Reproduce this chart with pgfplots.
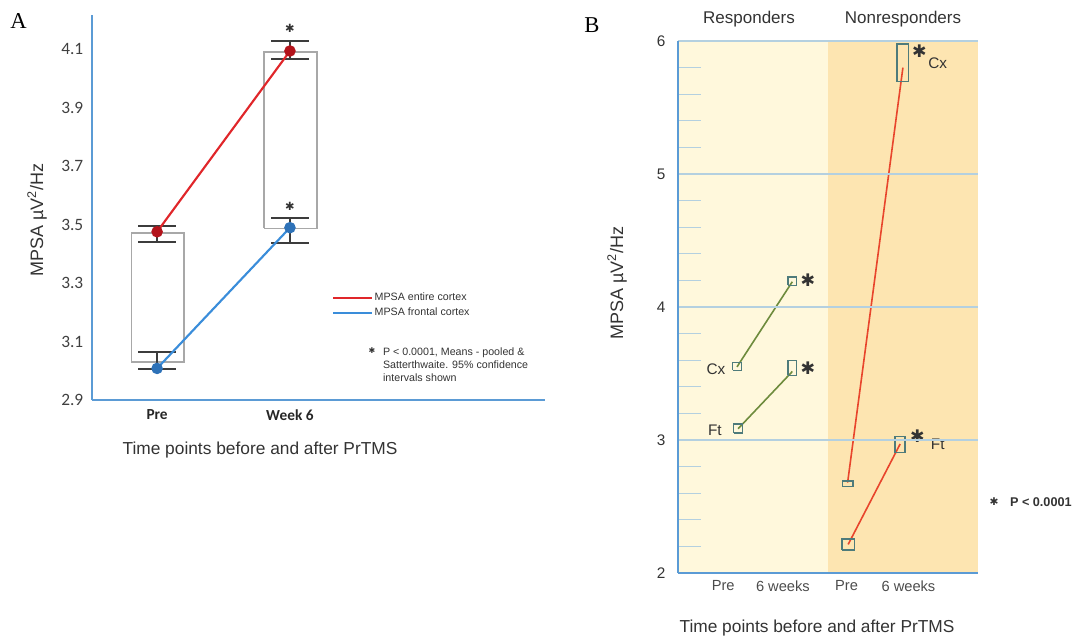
\documentclass[border=0pt]{standalone}
\usepackage{fontspec}
\setmainfont{Liberation Sans}
\newfontfamily\calibri{Carlito}
\newfontfamily\timesf{Liberation Serif}
\newfontfamily\dejavu{DejaVu Sans}
\usepackage{pgfplots}
\pgfplotsset{compat=1.18}
\definecolor{axblue}{HTML}{5B9BD5}
\definecolor{redA}{HTML}{E0262A}
\definecolor{redAm}{HTML}{B3131B}
\definecolor{blueA}{HTML}{3A8DDA}
\definecolor{blueAm}{HTML}{2E72B8}
\definecolor{errgray}{HTML}{3C3C3C}
\definecolor{boxgray}{HTML}{A8A8A8}
\definecolor{txt}{HTML}{333333}
\definecolor{resbg}{HTML}{FFF8DC}
\definecolor{nonbg}{HTML}{FDE5B1}
\definecolor{gridb}{HTML}{B4D0E0}
\definecolor{oliveB}{HTML}{6E8B3D}
\definecolor{redB}{HTML}{E8452C}
\definecolor{boxB}{HTML}{4E7B7B}
\newcommand\hstar{{\dejavu ✱}}
\begin{document}
\begin{tikzpicture}
\useasboundingbox (0,0) rectangle (805.5pt,477.75pt);
% ---------------- Panel A ----------------
\begin{axis}[
  at={(69pt,177.75pt)}, anchor=south west,
  width=339.75pt, height=288.75pt, scale only axis,
  xmin=0.51, xmax=3.92, ymin=2.9, ymax=4.216,
  axis x line=bottom, axis y line=left,
  axis line style={draw=axblue, line width=1.6pt, -},
  xtick={1,2}, xticklabels={Pre, Week 6},
  ytick={2.9,3.1,3.3,3.5,3.7,3.9,4.1},
  major tick length=0pt,
  /pgf/number format/assume math mode=true,
  /pgf/number format/fixed, /pgf/number format/fixed zerofill, /pgf/number format/precision=1,
  y tick label style={font=\calibri\fontsize{13}{15}\selectfont, color=black!75, xshift=-3pt},
  x tick label style={font=\calibri\bfseries\fontsize{11.5}{13}\selectfont, color=black!85, yshift=-4pt},
  clip=false,
  legend style={at={(axis cs:2.315,3.223)}, anchor=west, draw=none, fill=none,
    font=\fontsize{8}{9}\selectfont\color{txt}, row sep=1.2pt, inner sep=0pt,
    nodes={inner sep=1pt, text height=6pt, text depth=2pt}},
  legend cell align=left,
  legend image code/.code={\draw[#1, line width=2pt] (0pt,0pt) -- (29pt,0pt);},
]
% boxes
\addplot[boxgray, line width=1pt, forget plot] coordinates {(0.805,3.030) (1.203,3.030) (1.203,3.471) (0.805,3.471) (0.805,3.030)};
\addplot[boxgray, line width=1pt, forget plot] coordinates {(1.805,3.487) (2.203,3.487) (2.203,4.089) (1.805,4.089) (1.805,3.487)};
% error bars
\addplot[forget plot, only marks, mark=none,
  error bars/.cd, y dir=both, y explicit,
  error bar style={errgray, line width=1.4pt},
  error mark=|,
  error mark options={errgray, line width=1.4pt, mark size=14pt}]
  coordinates {(1,3.475) += (0,0.020) -= (0,0.034)
               (2,4.093) += (0,0.035) -= (0,0.027)
               (1,3.008) += (0,0.057) -= (0,0.003)
               (2,3.489) += (0,0.032) -= (0,0.053)};
% lines
\addplot[redA, line width=1.6pt, mark=*, mark size=3.5pt, mark options={fill=redAm, draw=redAm}]
  coordinates {(1,3.475) (2,4.093)};
\addlegendentry{MPSA entire cortex}
\addplot[blueA, line width=1.6pt, mark=*, mark size=3.5pt, mark options={fill=blueAm, draw=blueAm}]
  coordinates {(1,3.008) (2,3.489)};
\addlegendentry{MPSA frontal cortex}
% stars
\node[txt, font=\fontsize{8.5}{8.5}\selectfont] at (axis cs:2.0,4.17) {\hstar};
\node[txt, font=\fontsize{8.5}{8.5}\selectfont] at (axis cs:2.0,3.563) {\hstar};
% note
\node[txt, font=\fontsize{6}{6}\selectfont] at (axis cs:2.617,3.068) {\hstar};
\node[txt, anchor=north west, align=left, inner sep=0pt, font=\fontsize{8}{9.75}\selectfont] at (axis cs:2.699,3.081)
  {P < 0.0001, Means - pooled \&\\Satterthwaite. 95\% confidence\\intervals shown};
\end{axis}
% ---------------- Panel B ----------------
\begin{axis}[
  at={(508.5pt,48pt)}, anchor=south west,
  width=225pt, height=399pt, scale only axis,
  axis on top,
  xmin=-0.067, xmax=5.358, ymin=2, ymax=6,
  axis x line=bottom, axis y line=left,
  axis line style={draw=axblue, line width=1.8pt, -},
  ytick={2,3,4,5,6},
  minor ytick={2.2,2.4,2.6,2.8,3.2,3.4,3.6,3.8,4.2,4.4,4.6,4.8,5.2,5.4,5.6,5.8},
  ymajorgrids, major grid style={gridb, line width=0.9pt},
  major tick length=0pt, minor tick length=17pt, tick align=inside,
  minor tick style={gridb, line width=1pt},
  xtick={0.75,1.83,2.98,4.1}, xticklabels={Pre, 6 weeks, Pre, 6 weeks},
  /pgf/number format/assume math mode=true,
  y tick label style={font=\fontsize{11.5}{13}\selectfont, color=txt, xshift=-6pt},
  x tick label style={font=\fontsize{11}{13}\selectfont, color=black!70, yshift=-2pt},
  clip=false,
]
\addplot[fill=resbg, draw=none, forget plot]
  coordinates {(-0.067,2) (2.646,2) (2.646,6) (-0.067,6)};
\addplot[fill=nonbg, draw=none, forget plot]
  coordinates {(2.646,2) (5.358,2) (5.358,6) (2.646,6)};
% lines
\addplot[oliveB, line width=1.2pt] coordinates {(1,3.55) (2,4.19)};
\addplot[oliveB, line width=1.2pt] coordinates {(1.02,3.085) (2,3.515)};
\addplot[redB, line width=1.2pt] coordinates {(3,2.68) (4,5.80)};
\addplot[redB, line width=1.2pt] coordinates {(3.01,2.215) (3.95,2.97)};
% boxes
\addplot[boxB, line width=1.1pt] coordinates {(0.92,3.524) (1.08,3.524) (1.08,3.582) (0.92,3.582) (0.92,3.524)};
\addplot[boxB, line width=1.1pt] coordinates {(1.92,4.162) (2.08,4.162) (2.08,4.226) (1.92,4.226) (1.92,4.162)};
\addplot[boxB, line width=1.1pt] coordinates {(0.94,3.052) (1.10,3.052) (1.10,3.119) (0.94,3.119) (0.94,3.052)};
\addplot[boxB, line width=1.1pt] coordinates {(1.92,3.485) (2.08,3.485) (2.08,3.598) (1.92,3.598) (1.92,3.485)};
\addplot[boxB, line width=1.1pt] coordinates {(2.904,2.652) (3.096,2.652) (3.096,2.692) (2.904,2.692) (2.904,2.652)};
\addplot[boxB, line width=1.1pt] coordinates {(3.895,5.695) (4.105,5.695) (4.105,5.976) (3.895,5.976) (3.895,5.695)};
\addplot[boxB, line width=1.1pt] coordinates {(2.90,2.174) (3.12,2.174) (3.12,2.256) (2.90,2.256) (2.90,2.174)};
\addplot[boxB, line width=1.1pt] coordinates {(3.86,2.905) (4.04,2.905) (4.04,3.027) (3.86,3.027) (3.86,2.905)};
% stars and labels
\node[txt, font=\fontsize{13}{13}\selectfont] at (axis cs:2.28,4.20) {\hstar};
\node[txt, font=\fontsize{13}{13}\selectfont] at (axis cs:2.28,3.54) {\hstar};
\node[txt, font=\fontsize{13}{13}\selectfont] at (axis cs:4.30,5.92) {\hstar};
\node[txt, font=\fontsize{13}{13}\selectfont] at (axis cs:4.26,3.03) {\hstar};
\node[txt, font=\fontsize{11.5}{13}\selectfont] at (axis cs:4.63,5.83) {Cx};
\node[txt, font=\fontsize{11.5}{13}\selectfont] at (axis cs:4.63,2.97) {Ft};
\node[txt, font=\fontsize{11.5}{13}\selectfont] at (axis cs:0.62,3.53) {Cx};
\node[txt, font=\fontsize{11.5}{13}\selectfont] at (axis cs:0.60,3.07) {Ft};
\end{axis}
% ---------------- outside texts ----------------
\node[font=\timesf\fontsize{17}{17}\selectfont] at (13.9pt,462pt) {A};
\node[font=\timesf\fontsize{17}{17}\selectfont] at (444pt,459pt) {B};
\node[txt, rotate=90, font=\fontsize{13.5}{15}\selectfont] at (27.75pt,312.75pt) {MPSA µV\textsuperscript{2}/Hz};
\node[txt, font=\fontsize{13}{15}\selectfont] at (195pt,140.25pt) {Time points before and after PrTMS};
\node[txt, rotate=90, font=\fontsize{13.5}{15}\selectfont] at (462.75pt,265.5pt) {MPSA µV\textsuperscript{2}/Hz};
\node[txt, font=\fontsize{13}{15}\selectfont] at (612.75pt,6.75pt) {Time points before and after PrTMS};
\node[txt, font=\fontsize{12.75}{14}\selectfont] at (561.75pt,463.5pt) {Responders};
\node[txt, font=\fontsize{12.75}{14}\selectfont] at (677.25pt,463.5pt) {Nonresponders};
\node[txt, font=\fontsize{8}{8}\selectfont] at (745.5pt,101.25pt) {\hstar};
\node[txt, anchor=west, font=\bfseries\fontsize{9.5}{11}\selectfont] at (754pt,101.25pt) {P < 0.0001};
\end{tikzpicture}
\end{document}
